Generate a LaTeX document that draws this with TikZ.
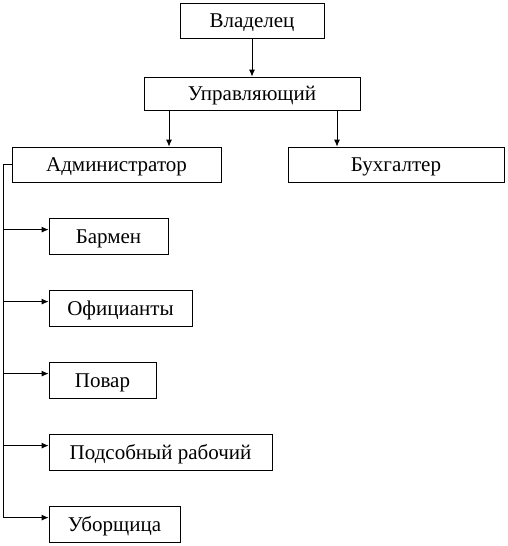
\documentclass[tikz,border=0pt]{standalone}
\usepackage{fontspec}
\setmainfont{Liberation Serif}
\usetikzlibrary{arrows.meta,calc}
\begin{document}
\begin{tikzpicture}[x=1pt,y=-1pt,
  box/.style={draw,line width=0.8pt,inner sep=0pt,text height=15pt,text depth=1pt,font=\fontsize{21}{24}\selectfont},
  arr/.style={line width=0.8pt,-{Latex[length=7pt,width=6pt]}},
  ln/.style={line width=0.8pt}]
\useasboundingbox (0,0) rectangle (508,546);
\node[box,minimum width=144pt,minimum height=35pt] (own) at (252,20.5) {Владелец};
\node[box,minimum width=216pt,minimum height=33pt] (mgr) at (252,93.5) {Управляющий};
\node[box,minimum width=209pt,minimum height=35pt] (adm) at (116.5,164.5) {Администратор};
\node[box,minimum width=216pt,minimum height=35pt] (acc) at (396,164.5) {Бухгалтер};
\node[box,minimum width=119pt,minimum height=36pt] (bar) at (108.5,236) {Бармен};
\node[box,minimum width=143pt,minimum height=36pt] (wai) at (120.5,308) {Официанты};
\node[box,minimum width=107pt,minimum height=36pt] (cook) at (102.5,380) {Повар};
\node[box,minimum width=223pt,minimum height=36pt] (help) at (160.5,452) {Подсобный рабочий};
\node[box,minimum width=131pt,minimum height=36pt] (cln) at (114.5,524) {Уборщица};
\draw[arr] (own.south) -- (mgr.north);
\draw[arr] (mgr.south -| 169,0) -- (adm.north -| 169,0);
\draw[arr] (mgr.south -| 337,0) -- (acc.north -| 337,0);
\coordinate (bot) at (3,518);
\draw[ln] (adm.west) -| (bot);
\foreach \n in {bar,wai,cook,help,cln}{
  \coordinate (e\n) at ($(\n.north west)+(0,12)$);
  \draw[arr] (e\n -| bot) -- (e\n);
}
\end{tikzpicture}
\end{document}
